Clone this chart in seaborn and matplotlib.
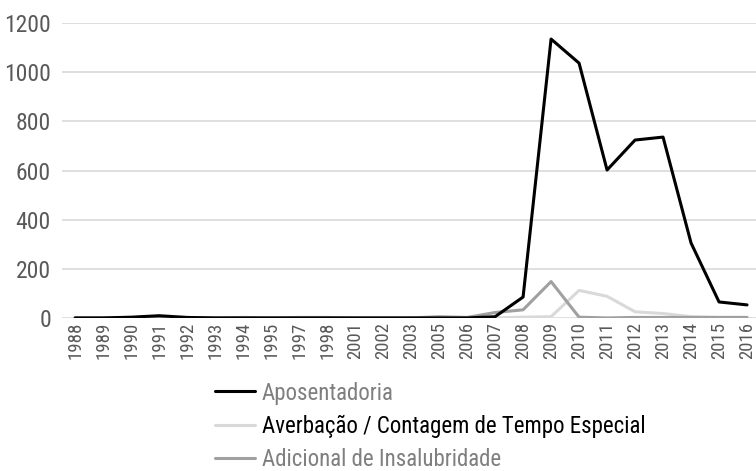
import matplotlib
matplotlib.use("Agg")
import matplotlib.pyplot as plt
import pandas as pd
import seaborn as sns
from matplotlib import font_manager
from matplotlib.lines import Line2D

years = ["1988", "1989", "1990", "1991", "1992", "1993", "1994", "1995", "1997",
         "1998", "2001", "2002", "2003", "2005", "2006", "2007", "2008", "2009",
         "2010", "2011", "2012", "2013", "2014", "2015", "2016"]
aposentadoria = [0, 0, 3, 9, 2, 0, 0, 0, 0, 0, 0, 0, 0, 0, 0, 5, 85, 1135,
                 1037, 602, 724, 736, 305, 65, 53]
averbacao = [0, 0, 0, 0, 0, 0, 0, 0, 0, 0, 0, 0, 0, 0, 0, 0, 3, 5,
             112, 88, 25, 18, 5, 2, 2]
adicional = [0, 0, 0, 0, 0, 0, 2, 0, 2, 2, 0, 0, 0, 5, 2, 22, 33, 148,
             3, 0, 2, 2, 2, 2, 2]

series_names = ["Averbação / Contagem de Tempo Especial", "Adicional de Insalubridade",
                "Aposentadoria"]
series_values = [averbacao, adicional, aposentadoria]
colors = {"Aposentadoria": "#000000",
          "Averbação / Contagem de Tempo Especial": "#d9d9d9",
          "Adicional de Insalubridade": "#a0a0a0"}

df = pd.DataFrame(
    [(y, v, name) for name, vals in zip(series_names, series_values)
     for y, v in zip(years, vals)],
    columns=["ano", "valor", "tipo"],
)

sns.set_theme(style="white")

# narrow font: take a real condensed family if there is one
installed = {f.name for f in font_manager.fontManager.ttflist}
family, stretch = "DejaVu Sans", "condensed"
for cand in ["Liberation Sans Narrow", "Roboto Condensed", "Open Sans Condensed"]:
    if cand in installed:
        family, stretch = cand, "normal"
        break
plt.rcParams["font.family"] = [family, "DejaVu Sans"]
plt.rcParams["font.stretch"] = stretch

fig = plt.figure(figsize=(7.56, 4.71), dpi=100)
ax = fig.add_axes([0.082, 0.325, 0.918, 0.626])

sns.lineplot(data=df, x="ano", y="valor", hue="tipo", hue_order=series_names,
             palette=colors, linewidth=2.2, ax=ax, legend=False)

ax.set_ylim(0, 1200)
ax.set_xlim(-0.47, 24.32)
ax.set_yticks(range(0, 1201, 200))
ax.yaxis.grid(True, color="#d9d9d9", linewidth=1.2)
ax.set_axisbelow(True)
for s in ax.spines.values():
    s.set_visible(False)
ax.set_xlabel("")
ax.set_ylabel("")
ax.tick_params(axis="y", labelsize=17, labelcolor="#595959", length=0, pad=8)
ax.tick_params(axis="x", labelsize=13.5, labelcolor="#595959", length=0, pad=3,
               labelrotation=90)

legend_order = ["Aposentadoria", "Averbação / Contagem de Tempo Especial",
                "Adicional de Insalubridade"]
handles = [Line2D([], [], color=colors[n], linewidth=2.2) for n in legend_order]
fig.legend(handles, legend_order, loc="upper left", bbox_to_anchor=(0.284, 0.19),
           frameon=False, fontsize=16.5, handlelength=1.75, handletextpad=0.3,
           labelspacing=0.45, borderpad=0, borderaxespad=0,
           labelcolor=["#7f7f7f", "#000000", "#7f7f7f"])

fig.savefig("out.png", dpi=100)
